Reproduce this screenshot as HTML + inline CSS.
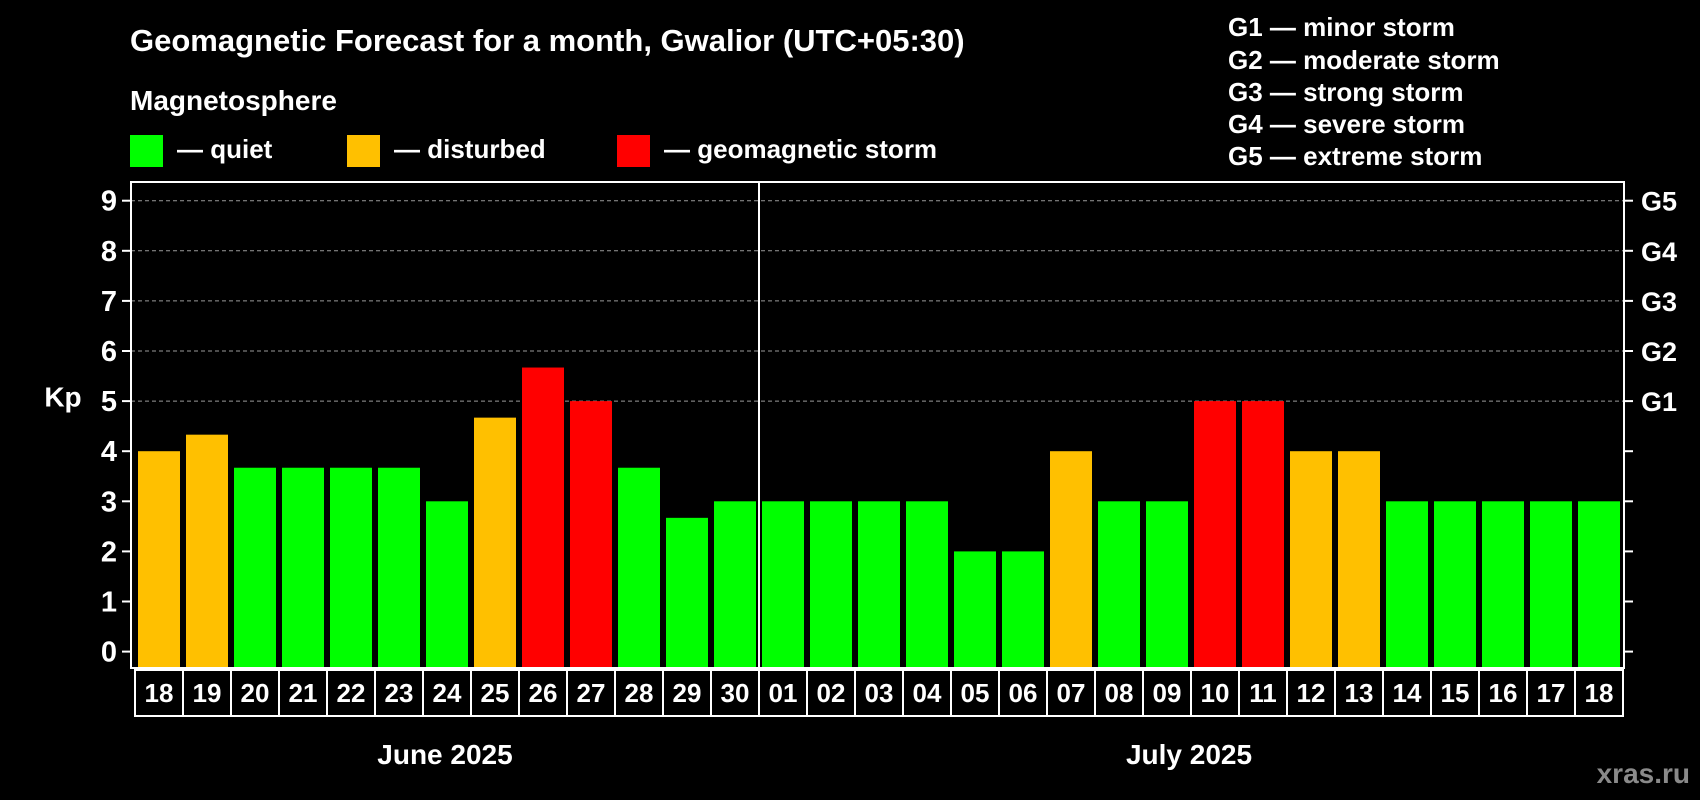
<!DOCTYPE html>
<html><head><meta charset="utf-8"><style>
html,body{margin:0;padding:0;background:#000;}
svg{display:block;font-family:"Liberation Sans",Arial,sans-serif;font-weight:bold;}
</style></head><body>
<svg id="chart" width="1700" height="800" viewBox="0 0 1700 800">
<rect width="1700" height="800" fill="#000"/>
<text x="130" y="51" font-size="31" fill="#fff">Geomagnetic Forecast for a month, Gwalior (UTC+05:30)</text>
<text x="130" y="110" font-size="28" fill="#fff">Magnetosphere</text>
<g><rect x="130" y="135" width="33" height="32" fill="#00ff00"/><text x="177" y="158" font-size="26" fill="#fff">— quiet</text></g>
<g><rect x="347" y="135" width="33" height="32" fill="#ffc000"/><text x="394" y="158" font-size="26" fill="#fff">— disturbed</text></g>
<g><rect x="617" y="135" width="33" height="32" fill="#ff0000"/><text x="664" y="158" font-size="26" fill="#fff">— geomagnetic storm</text></g>
<g font-size="26" fill="#fff">
<text x="1228" y="36">G1 — minor storm</text>
<text x="1228" y="69">G2 — moderate storm</text>
<text x="1228" y="101">G3 — strong storm</text>
<text x="1228" y="133">G4 — severe storm</text>
<text x="1228" y="165">G5 — extreme storm</text>
</g>
<g id="plot"></g>
<text x="63" y="399" font-size="28" fill="#fff" text-anchor="middle" dominant-baseline="middle">Kp</text>
<text x="445" y="764" font-size="28" fill="#fff" text-anchor="middle">June 2025</text>
<text x="1189" y="764" font-size="28" fill="#fff" text-anchor="middle">July 2025</text>
<text x="1690" y="783" font-size="28" fill="#8a8a8a" text-anchor="end">xras.ru</text>
</svg>
<script>
const days = ["18","19","20","21","22","23","24","25","26","27","28","29","30","01","02","03","04","05","06","07","08","09","10","11","12","13","14","15","16","17","18"];
const kpValues = [4,4.33,3.67,3.67,3.67,3.67,3,4.67,5.67,5,3.67,2.67,3,3,3,3,3,2,2,4,3,3,5,5,4,4,3,3,3,3,3];
const yTicks = [0,1,2,3,4,5,6,7,8,9];
const gLabels = ["G1","G2","G3","G4","G5"];
const gLevels = [5,6,7,8,9];
const juneCount = 13;

const NS = "http://www.w3.org/2000/svg";
const plot = document.getElementById("plot");
const X0 = 131, X1 = 1624, YT = 182, YB = 668;
const step = 48, barW = 42, barOff = 7;
function yScale(v){ return 651.6 - v * 50.1; }
function xScale(i){ return X0 + barOff + i * step; }
function mk(tag, attrs){ const e = document.createElementNS(NS, tag); for (const k in attrs) e.setAttribute(k, attrs[k]); plot.appendChild(e); return e; }
function color(v){ return v >= 5 ? "#ff0000" : (v >= 4 ? "#ffc000" : "#00ff00"); }

yTicks.forEach(t => {
  const y = yScale(t);
  if (t >= 5) {
    const g = mk("line", {x1: X0, x2: X1, y1: y, y2: y, stroke: "#9a9a9a", "stroke-width": 1, "stroke-dasharray": "4,3"});
    
    
  }
  const tl = mk("line", {x1: X0 - 9, x2: X0, y1: y, y2: y, stroke: "#fff", "stroke-width": 2});
  
  
  const tr = mk("line", {x1: X1, x2: X1 + 9, y1: y, y2: y, stroke: "#fff", "stroke-width": 2});
  
  
  const lbl = mk("text", {x: 117, y: y + 10, "font-size": 29, fill: "#fff", "text-anchor": "end"});
  lbl.textContent = t;
  
  
});
gLabels.forEach((g, i) => {
  const t = mk("text", {x: 1641, y: yScale(gLevels[i]) + 10, "font-size": 27, fill: "#fff"});
  t.textContent = g;
  
  
});

kpValues.forEach((v, i) => {
  const y = yScale(v);
  const b = mk("rect", {x: xScale(i), y: y, width: barW, height: YB - y, fill: color(v)});
  
  
  const cell = mk("rect", {x: X0 + 4 + i * step, y: 670, width: step, height: 46, fill: "none", stroke: "#fff", "stroke-width": 2});
  
  
  const dl = mk("text", {x: X0 + 4 + i * step + step/2, y: 702, "font-size": 26, fill: "#fff", "text-anchor": "middle"});
  dl.textContent = days[i];
  
  
});

const frame = mk("rect", {x: X0, y: YT, width: X1 - X0, height: YB - YT, fill: "none", stroke: "#fff", "stroke-width": 2});


const sepX = xScale(juneCount) - 3;
const sep = mk("line", {x1: sepX, x2: sepX, y1: YT, y2: YB, stroke: "#fff", "stroke-width": 2});


</script>
</body></html>
